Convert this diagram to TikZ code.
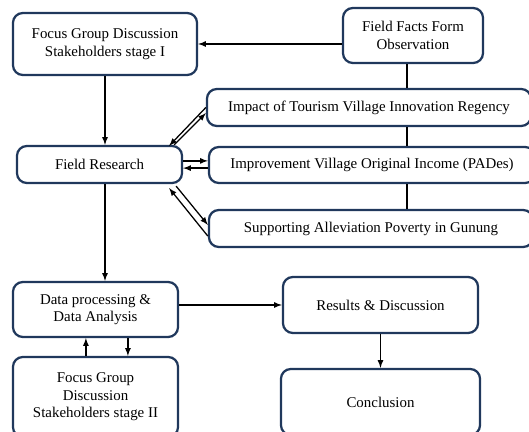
\documentclass[tikz,border=0pt]{standalone}
\usepackage{fontspec}
\setmainfont{Liberation Serif}
\usepackage{tikz}
\usetikzlibrary{arrows}

\definecolor{boxblue}{RGB}{32,56,92}

\begin{document}
\begin{tikzpicture}[x=0.025cm, y=-0.025cm, >=latex,
		box/.style={draw=boxblue, line width=1.6pt, rounded corners=7pt, align=center,
			inner sep=0pt, font=\fontsize{10.6}{12.4}\selectfont},
		link/.style={line width=0.9pt}]
	\useasboundingbox (0,0) rectangle (529,432);

	% left column
	\node[box, minimum width=4.6cm, minimum height=1.55cm] (fgdA) at (105, 44) {Focus Group Discussion \\ Stakeholders stage I};
	\node[box, minimum width=4.125cm, minimum height=0.925cm] (research) at (99.5, 164.5) {Field Research};
	\node[box, minimum width=4.125cm, minimum height=1.375cm] (data) at (95.5, 309.5) {Data processing \& \\ Data Analysis};
	\node[box, minimum width=4.125cm, minimum height=2cm] (fgdB) at (95.5, 397) {Focus Group \\ Discussion \\ Stakeholders stage II};

	% right column
	\node[box, minimum width=3.5cm, minimum height=1.375cm] (facts) at (413, 35.5) {Field Facts Form \\ Observation};
	\node[box, minimum width=8.1cm, minimum height=0.925cm] (impact) at (369, 107.5) {Impact of Tourism Village Innovation Regency};
	\node[box, minimum width=8.15cm, minimum height=0.9cm] (improve) at (372, 165) {Improvement Village Original Income (PADes)};
	\node[box, minimum width=8.1cm, minimum height=0.925cm] (support) at (371, 228.5) {Supporting Alleviation Poverty in Gunung};
	\node[box, minimum width=4.875cm, minimum height=1.4cm] (results) at (380.5, 305) {Results \& Discussion};
	\node[box, minimum width=4.975cm, minimum height=1.65cm] (concl) at (380.5, 402) {Conclusion};

	\coordinate (spine) at (407, 0);

	\draw[link, ->] (facts.west |- fgdA.east) -- (fgdA.east);
	\draw[link] (spine |- facts.south) -- (spine |- impact.north);
	\draw[link] (spine |- impact.south) -- (spine |- improve.north);
	\draw[link] (spine |- improve.south) -- (spine |- support.north);

	\draw[link, ->] (fgdA.south) -- (fgdA.south |- research.north);
	\draw[link, ->] (research.south -| fgdA.south) -- (data.north -| fgdA.south);

	% two way links
	\draw[link, ->] (impact.west) -- ([xshift=-0.35cm, yshift=-0.025cm]research.north east);
	\draw[link, ->] ([xshift=-0.225cm]research.north east) -- ([yshift=-0.14cm]impact.west);
	\draw[link, ->] ([yshift=0.09cm]research.east) -- ([yshift=0.09cm]research.east -| improve.west);
	\draw[link, <-] ([yshift=-0.09cm]research.east) -- ([yshift=-0.09cm]research.east -| improve.west);
	\draw[link, ->] ([yshift=-0.19cm]support.west) -- ([xshift=-0.35cm, yshift=-0.1cm]research.south east);
	\draw[link, ->] ([xshift=-0.175cm, yshift=-0.05cm]research.south east) -- ([yshift=0.09cm]support.west);

	\draw[link, ->] ([xshift=-0.24cm]fgdB.north) -- ([xshift=-0.24cm]data.south);
	\draw[link, ->] ([xshift=0.81cm]data.south) -- ([xshift=0.81cm]fgdB.north);

	\draw[link, ->] (results.west -| data.east) -- (results.west);
	\draw[link, ->] (results.south) -- (concl.north);
\end{tikzpicture}
\end{document}
